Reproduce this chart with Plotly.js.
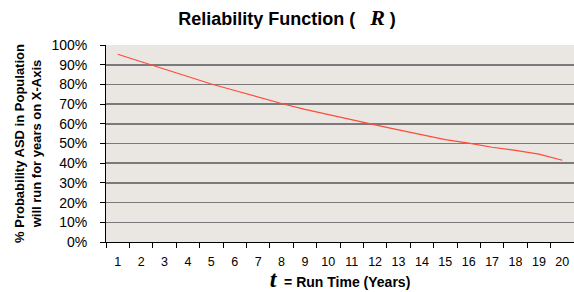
<!DOCTYPE html>
<html>
<head>
<meta charset="utf-8">
<script src="https://cdn.plot.ly/plotly-3.0.1.min.js"></script>
<style>html,body{margin:0;padding:0;background:#fff;}#chart{width:574px;height:292px;}</style>
</head>
<body>
<div id="chart"></div>
<script>
const years = ["1","2","3","4","5","6","7","8","9","10","11","12","13","14","15","16","17","18","19","20"];
const reliability = [95.3, 91.5, 87.7, 84.0, 80.2, 76.9, 73.5, 70.3, 67.3, 64.6, 62.1, 59.5, 56.9, 54.3, 52.0, 50.2, 48.1, 46.5, 44.6, 41.5];
const yTickVals = [0,10,20,30,40,50,60,70,80,90,100];
const yTickText = ["0%","10%","20%","30%","40%","50%","60%","70%","80%","90%","100%"];

const trace = {
  x: years,
  y: reliability,
  type: "scatter",
  mode: "lines",
  line: {color: "#FF4B3A", width: 1.2},
  hoverinfo: "skip"
};

const layout = {
  width: 574,
  height: 292,
  margin: {l: 106, r: 0, t: 45, b: 50},
  paper_bgcolor: "#ffffff",
  plot_bgcolor: "#EAE6E2",
  showlegend: false,
  font: {family: "Liberation Sans, Arial, sans-serif", color: "#000"},
  title: {
    text: "<b>Reliability Function (   <span style='font-family:Liberation Serif,Times New Roman,serif;font-size:22px'><i>R</i></span> )</b>",
    font: {size: 18, family: "Liberation Sans, Arial, sans-serif", color: "#000"},
    x: 0.5, xanchor: "center", y: 0.935, yanchor: "middle"
  },
  xaxis: {
    type: "category",
    range: [-0.5, 19.5],
    tickson: "boundaries",
    ticks: "outside",
    ticklen: 5,
    tickcolor: "#000",
    showline: true,
    linecolor: "#000",
    linewidth: 1,
    showgrid: false,
    zeroline: false,
    ticklabelstandoff: 8,
    tickfont: {size: 12.5, color: "#000"},
    title: {
      text: "<b><span style='font-family:Liberation Serif,Times New Roman,serif;font-size:24px'><i>t</i></span>  = Run Time (Years)</b>",
      font: {size: 14, color: "#000"},
      standoff: 2
    }
  },
  yaxis: {
    range: [0, 100],
    tickmode: "array",
    tickvals: yTickVals,
    ticktext: yTickText,
    ticks: "outside",
    ticklen: 5,
    tickcolor: "#000",
    showline: true,
    linecolor: "#000",
    linewidth: 1,
    showgrid: true,
    gridcolor: "#7A7A7A",
    gridwidth: 1.6,
    zeroline: false,
    ticklabelstandoff: 10,
    tickfont: {size: 14, color: "#000"},
    title: {
      text: "<b>% Probability ASD in Population<br>will run for years on X-Axis</b>",
      font: {size: 13, color: "#000"},
      standoff: 6
    }
  }
};

Plotly.newPlot("chart", [trace], layout, {staticPlot: true, displayModeBar: false});
</script>
</body>
</html>
